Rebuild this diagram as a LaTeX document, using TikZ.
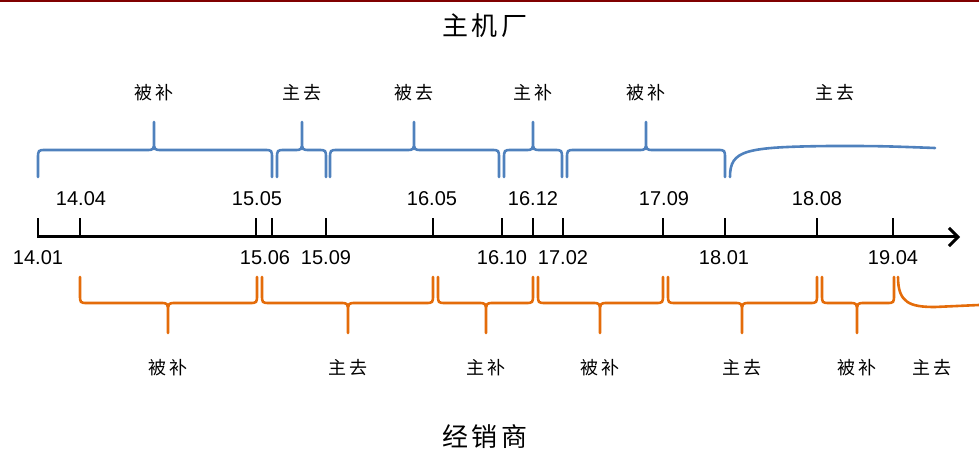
\documentclass[tikz,border=0pt]{standalone}
\usepackage{fontspec}
\setmainfont{Liberation Sans}
\newfontfamily\cjk[LetterSpace=15]{Noto Sans CJK SC}
\usetikzlibrary{arrows.meta}

\definecolor{makerblue}{RGB}{79,129,189}
\definecolor{dealerorange}{RGB}{228,108,10}
\definecolor{bannerred}{RGB}{128,0,0}

% colour, left end, right end, tip, end y, line y, tip y
\newcommand{\cyclebrace}[7]{%
  \pgfmathsetmacro\bcorner{#6+0.33*(#5-#6)}%
  \pgfmathsetmacro\bspike{#6+0.33*(#7-#6)}%
  \draw[brace, #1] (#2,#5) -- (#2,\bcorner) .. controls (#2,#6) .. (#2+8,#6)
    -- (#4-8,#6) .. controls (#4,#6) .. (#4,\bspike) -- (#4,#7)
    -- (#4,\bspike) .. controls (#4,#6) .. (#4+8,#6)
    -- (#3-8,#6) .. controls (#3,#6) .. (#3,\bcorner) -- (#3,#5);
}

\begin{document}
\begin{tikzpicture}[
    x=1pt, y=-1pt,
    brace/.style={line width=2.6pt, line join=round, line cap=round},
    axis/.style={line width=3pt, -{Straight Barb[length=9pt, width=18pt, line width=3pt]}},
    tick/.style={line width=2.6pt},
    date/.style={font=\fontsize{20}{22}\selectfont, inner sep=0pt},
    phase/.style={font=\cjk\fontsize{18}{20}\selectfont, inner sep=0pt},
    title/.style={font=\cjk\fontsize{26}{28}\selectfont, inner sep=0pt}
]
\useasboundingbox (0,0) rectangle (979,454);
\fill[bannerred] (0,0) rectangle (979,2.5);

\node[title] (maker) at (485,26) {主机厂};
\node[title] (dealer) at (485,437) {经销商};

% time axis
\coordinate (origin) at (37,237);
\coordinate (axisend) at (960,237);
\draw[axis] (origin) -- (axisend);

\foreach \x [count=\i] in {38, 80, 256, 272, 326, 433, 502, 533, 563, 663, 725, 817, 893} {
  \coordinate (t\i) at (\x,237);
  \draw[tick] (t\i) -- ++(0,-19);
}
\node[date] (d1) at (38,257.5) {14.01};
\node[date] (d2) at (81,199) {14.04};
\node[date] (d3) at (257,199) {15.05};
\node[date] (d4) at (265,257.5) {15.06};
\node[date] (d5) at (326,257.5) {15.09};
\node[date] (d6) at (432,199) {16.05};
\node[date] (d7) at (502,257.5) {16.10};
\node[date] (d8) at (533,199) {16.12};
\node[date] (d9) at (563,257.5) {17.02};
\node[date] (d10) at (664,199) {17.09};
\node[date] (d11) at (724,257.5) {18.01};
\node[date] (d12) at (817,199) {18.08};
\node[date] (d13) at (893,257.5) {19.04};

% maker cycles
\foreach \a/\b/\m/\lab [count=\i] in {38/272/154/被补, 277/326/302/主去,
    330/499/414/被去, 504/562/533/主补, 567/725/646/被补} {
  \cyclebrace{makerblue}{\a}{\b}{\m}{177}{150}{122}
  \node[phase] (up\i) at (\m,93) {\lab};
}
\draw[brace, makerblue] (730,177) .. controls (730,150) and (745,147) .. (830,146)
  .. controls (880,146) .. (935,148);
\node[phase] (up6) at (835,93) {主去};

% dealer cycles
\foreach \a/\b/\m/\lab [count=\i] in {80/257/168/被补, 262/433/348/主去,
    438/533/486/主补, 538/663/600/被补, 668/817/742/主去, 822/894/857/被补} {
  \cyclebrace{dealerorange}{\a}{\b}{\m}{277}{303}{333}
  \node[phase] (down\i) at (\m,368) {\lab};
}
\draw[brace, dealerorange] (898,277) .. controls (898,303) and (910,307) .. (935,307)
  -- (979,305);
\node[phase] (down7) at (932,368) {主去};
\end{tikzpicture}
\end{document}
